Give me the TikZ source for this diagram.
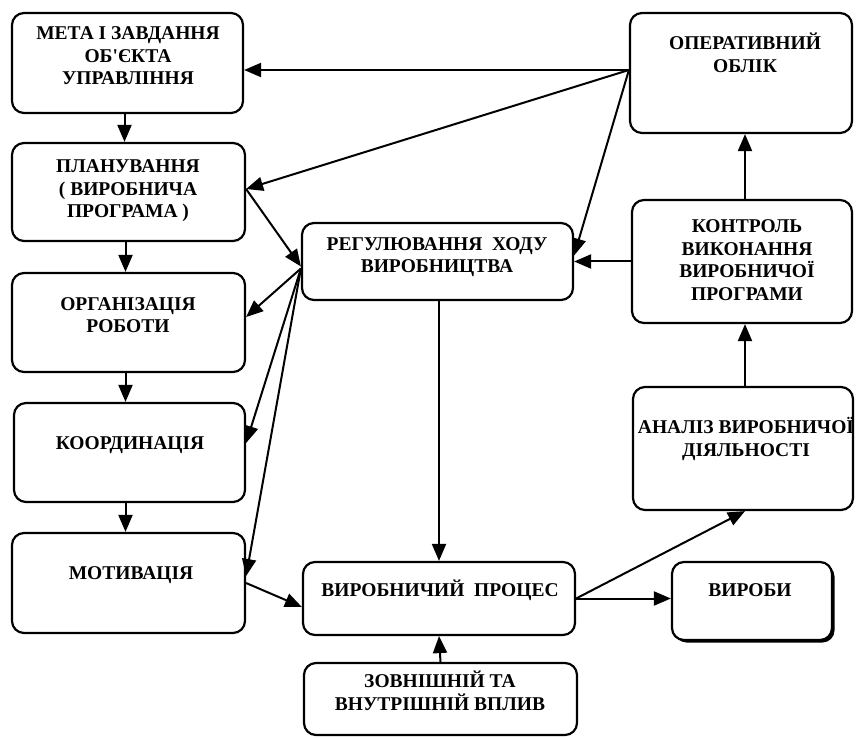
\documentclass[tikz,border=0pt]{standalone}
\usepackage{fontspec}
\setmainfont{Liberation Serif}
\usetikzlibrary{arrows.meta,shadows,calc}
\begin{document}
\begin{tikzpicture}[x=1pt,y=-1pt,
  box/.style={draw, line width=2.2pt, rounded corners=12pt, inner sep=0pt, fill=white},
  lbl/.style={align=center, inner sep=0pt, font=\bfseries\fontsize{19.5}{22.5}\selectfont},
  conn/.style={line width=2pt, -{Triangle[length=17pt,width=14pt]}},
]
\useasboundingbox (0,0) rectangle (857,738);

% left column
\node[box, minimum width=231pt, minimum height=100pt] (meta)  at (127.5,63)  {};
\node[box, minimum width=233pt, minimum height=98pt]  (plan)  at (128.5,192) {};
\node[box, minimum width=233pt, minimum height=99pt]  (org)   at (128.5,322.5) {};
\node[box, minimum width=231pt, minimum height=99pt]  (koord) at (129.5,452.5) {};
\node[box, minimum width=233pt, minimum height=100pt] (motiv) at (128.5,583) {};

% middle column
\node[box, minimum width=271pt, minimum height=77pt] (reg)  at (437.5,261.5) {};
\node[box, minimum width=272pt, minimum height=73pt] (vyr)  at (439,598.5) {};
\node[box, minimum width=273pt, minimum height=72pt] (zovn) at (440.5,699) {};

% right column
\node[box, minimum width=222pt, minimum height=120pt] (oper)   at (741,73) {};
\node[box, minimum width=220pt, minimum height=123pt] (kontr)  at (742,261.5) {};
\node[box, minimum width=220pt, minimum height=123pt] (analiz) at (743,448.5) {};
\node[box, minimum width=160pt, minimum height=78pt,
      drop shadow={shadow xshift=2.5pt, shadow yshift=-2.5pt, fill=black, opacity=1}] (vyroby) at (752,601) {};

% labels
\node[lbl] (metaT)   at (128,56)  {МЕТА І ЗАВДАННЯ\\ОБ\textquotesingle ЄКТА\\УПРАВЛІННЯ};
\node[lbl] (planT)   at (128,191) {ПЛАНУВАННЯ\\( ВИРОБНИЧА\\ПРОГРАМА )};
\node[lbl] (orgT)    at (128,315) {ОРГАНІЗАЦІЯ\\РОБОТИ};
\node[lbl] (koordT)  at (130,445) {КООРДИНАЦІЯ};
\node[lbl] (motivT)  at (131,575) {МОТИВАЦІЯ};
\node[lbl] (regT)    at (437,257) {РЕГУЛЮВАННЯ\ \ ХОДУ\\ВИРОБНИЦТВА};
\node[lbl] (vyrT)    at (440,590) {ВИРОБНИЧИЙ\ \ ПРОЦЕС};
\node[lbl] (zovnT)   at (440,691) {ЗОВНІШНІЙ ТА\\ВНУТРІШНІЙ ВПЛИВ};
\node[lbl] (operT)   at (745,53)  {ОПЕРАТИВНИЙ\\ОБЛІК};
\node[lbl] (kontrT)  at (747,260) {КОНТРОЛЬ\\ВИКОНАННЯ\\ВИРОБНИЧОЇ\\ПРОГРАМИ};
\node[lbl] (analizT) at (746,439) {АНАЛІЗ\ ВИРОБНИЧОЇ\\ДІЯЛЬНОСТІ};
\node[lbl] (vyrobyT) at (750,590) {ВИРОБИ};

% chain down the left column
\draw[conn] ([xshift=-3pt]meta.south)  -- ([xshift=-3pt]meta.south |- plan.north);
\draw[conn] ([xshift=-3pt]plan.south)  -- ([xshift=-3pt]plan.south |- org.north);
\draw[conn] ([xshift=-3pt]org.south)   -- ([xshift=-3pt]org.south |- koord.north);
\draw[conn] ([xshift=-4pt]koord.south) -- ([xshift=-4pt]koord.south |- motiv.north);

% feedback from operational accounting
\draw[conn] ([yshift=3pt]oper.west) -- ([yshift=-7pt]meta.east);
\draw[conn] ([yshift=3pt]oper.west) -- ([yshift=3pt]plan.east);
\draw[conn] ([yshift=3pt]oper.west) -- ([yshift=6pt]reg.east);
\draw[conn] (kontr.west) -- (kontr.west -| reg.east);

% planning into regulation, regulation out to the left column
\draw[conn] ([yshift=3pt]plan.east) -- ([yshift=-5pt]reg.west);
\draw[conn] ([yshift=-7pt]reg.west) -- ([yshift=5.5pt]org.east);
\draw[conn] ([yshift=-7pt]reg.west) -- ([yshift=9.5pt]koord.east);
\draw[conn] ([yshift=-7pt]reg.west) -- ([yshift=7pt]motiv.east);

% production process
\draw[conn] (motiv.east) -- ([yshift=-8.5pt]vyr.west);
\draw[conn] (reg.south -| vyr.north) -- (vyr.north);
\draw[conn] (zovn.north) -- (vyr.south);
\draw[conn] (vyr.east) -- (vyr.east -| vyroby.west);
\draw[conn] (vyr.east) -- ([xshift=2pt]analiz.south);

% right column upwards
\draw[conn] ([xshift=2pt]analiz.north) -- ([xshift=2pt]analiz.north |- kontr.south);
\draw[conn] ([xshift=3pt]kontr.north) -- ([xshift=3pt]kontr.north |- oper.south);
\end{tikzpicture}
\end{document}
